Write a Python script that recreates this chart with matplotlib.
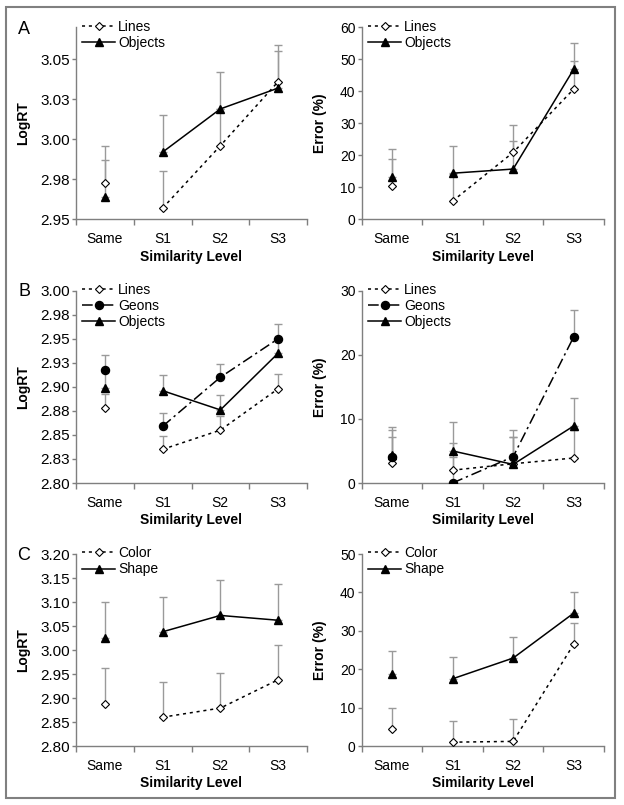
import matplotlib
matplotlib.use("Agg")
import matplotlib.pyplot as plt
from matplotlib.patches import Rectangle

plt.rcParams['font.family'] = ['Liberation Sans', 'DejaVu Sans']

levels = ['Same', 'S1', 'S2', 'S3']

# panel A
a_rt_lines = [2.973, 2.957, 2.996, 3.036]
a_rt_lines_err = [0.023, 0.023, 0.023, 0.023]
a_rt_objects = [2.964, 2.992, 3.019, 3.032]
a_rt_objects_err = [0.023, 0.023, 0.023, 0.023]
a_er_lines = [10.4, 5.7, 20.9, 40.7]
a_er_lines_err = [8.4, 8.5, 8.5, 8.7]
a_er_objects = [13.2, 14.4, 15.7, 46.9]
a_er_objects_err = [8.7, 8.5, 8.7, 8.3]

# panel B
b_rt_lines = [2.878, 2.835, 2.855, 2.898]
b_rt_lines_err = [0.015, 0.014, 0.015, 0.015]
b_rt_geons = [2.918, 2.859, 2.910, 2.950]
b_rt_geons_err = [0.015, 0.014, 0.014, 0.015]
b_rt_objects = [2.899, 2.896, 2.876, 2.935]
b_rt_objects_err = [0.016, 0.016, 0.016, 0.015]
b_er_lines = [3.1, 2.0, 3.0, 3.9]
b_er_lines_err = [4.0, 4.2, 4.2, 4.4]
b_er_geons = [4.1, 0.0, 4.1, 22.8]
b_er_geons_err = [4.1, 4.0, 4.2, 4.2]
b_er_objects = [4.4, 5.0, 2.9, 8.9]
b_er_objects_err = [4.3, 4.5, 4.3, 4.4]

# panel C
c_rt_color = [2.888, 2.860, 2.879, 2.938]
c_rt_color_err = [0.074, 0.073, 0.074, 0.072]
c_rt_shape = [3.026, 3.038, 3.072, 3.062]
c_rt_shape_err = [0.073, 0.073, 0.073, 0.075]
c_er_color = [4.4, 1.0, 1.2, 26.5]
c_er_color_err = [5.6, 5.5, 5.8, 5.6]
c_er_shape = [18.8, 17.5, 22.9, 34.6]
c_er_shape_err = [5.9, 5.6, 5.6, 5.6]

a_rt_ticks = [2.95, 2.975, 3.0, 3.025, 3.05]
a_rt_labels = ['2.95', '2.98', '3.00', '3.03', '3.05']
b_rt_ticks = [2.80, 2.825, 2.85, 2.875, 2.90, 2.925, 2.95, 2.975, 3.00]
b_rt_labels = ['2.80', '2.83', '2.85', '2.88', '2.90', '2.93', '2.95', '2.98', '3.00']
c_rt_ticks = [2.80, 2.85, 2.90, 2.95, 3.00, 3.05, 3.10, 3.15, 3.20]
c_rt_labels = ['2.80', '2.85', '2.90', '2.95', '3.00', '3.05', '3.10', '3.15', '3.20']

STYLES = {
    'diamond': dict(marker='D', ms=4.4, mfc='white', mec='black', mew=0.8,
                    color='black', ls=(0, (2, 2.5)), lw=1.1),
    'circle': dict(marker='o', ms=5.8, mfc='black', mec='black',
                   color='black', ls=(0, (7, 2.5, 1.5, 2.5)), lw=1.1),
    'triangle': dict(marker='^', ms=6.0, mfc='black', mec='black',
                     color='black', ls='-', lw=1.1),
}

AX_GRAY = '#7f7f7f'


def draw_panel(ax, series, ylim, yticks, yticklabels, ylabel, ylabel_x, ytick_size,
               order=None):
    x = list(range(len(levels)))
    for label, vals, errs, kind in series:
        low = [0] * len(errs)
        eb = ax.errorbar(x, vals, yerr=[low, errs], fmt='none', ecolor='#9a9a9a',
                         elinewidth=1.0, capsize=2.6, capthick=1.0, zorder=1)
        for cap in eb[1]:
            cap.set_color('#4a4a4a')
    handles = {}
    for label, vals, errs, kind in series:
        st = STYLES[kind]
        handles[label], = ax.plot(x[1:], vals[1:], label=label, zorder=3, **st)
        only_marker = {k: v for k, v in st.items() if k not in ('ls', 'lw')}
        ax.plot(x[:1], vals[:1], ls='none', zorder=3, **only_marker)

    ax.set_xlim(-0.5, 3.5)
    ax.set_ylim(*ylim)
    ax.set_yticks(yticks)
    ax.set_yticklabels(yticklabels)
    ax.set_xticks(x)
    ax.set_xticklabels(levels)
    ax.set_xticks([-0.5, 0.5, 1.5, 2.5, 3.5], minor=True)
    ax.tick_params(axis='x', which='major', length=0, pad=9, labelsize=10)
    ax.tick_params(axis='x', which='minor', length=4, width=1, color=AX_GRAY, direction='out')
    ax.tick_params(axis='y', which='major', length=3, width=1, color=AX_GRAY, pad=1.5,
                   labelsize=ytick_size, direction='out')
    for side in ('top', 'right'):
        ax.spines[side].set_visible(False)
    for side in ('left', 'bottom'):
        ax.spines[side].set_color(AX_GRAY)
        ax.spines[side].set_linewidth(1.0)

    ax.set_ylabel(ylabel, fontsize=10, fontweight='bold')
    ax.yaxis.label.set_va('center')
    ax.yaxis.set_label_coords(ylabel_x, 0.5)
    ax.set_xlabel('Similarity Level', fontsize=10, fontweight='bold')
    ax.xaxis.label.set_va('center')
    ax.xaxis.set_label_coords(0.5, -0.195)

    names = order if order else [s[0] for s in series]
    ax.legend([handles[n] for n in names], names, loc='upper left',
              bbox_to_anchor=(0.026, 1.04), frameon=False, borderpad=0, borderaxespad=0,
              handlelength=2.4, handletextpad=0.2, labelspacing=0.15, fontsize=10)


W, H = 624, 805
fig = plt.figure(figsize=(6.24, 8.05), dpi=100)

left_x, left_w = 76 / W, 231 / W
right_x, right_w = 361.7 / W, 242.3 / W
rows = [(27.3, 219.3), (290.7, 483.0), (554.0, 746.0)]


def axes_at(x0, w, row):
    top, bottom = row
    return fig.add_axes([x0, 1 - bottom / H, w, (bottom - top) / H])


ax_a1 = axes_at(left_x, left_w, rows[0])
ax_a2 = axes_at(right_x, right_w, rows[0])
ax_b1 = axes_at(left_x, left_w, rows[1])
ax_b2 = axes_at(right_x, right_w, rows[1])
ax_c1 = axes_at(left_x, left_w, rows[2])
ax_c2 = axes_at(right_x, right_w, rows[2])

b_order = ['Lines', 'Geons', 'Objects']

draw_panel(ax_a1, [('Lines', a_rt_lines, a_rt_lines_err, 'diamond'),
                   ('Objects', a_rt_objects, a_rt_objects_err, 'triangle')],
           (2.95, 3.07), a_rt_ticks, a_rt_labels, 'LogRT', -0.23, 11)
draw_panel(ax_a2, [('Lines', a_er_lines, a_er_lines_err, 'diamond'),
                   ('Objects', a_er_objects, a_er_objects_err, 'triangle')],
           (0, 60), list(range(0, 61, 10)), [str(v) for v in range(0, 61, 10)],
           'Error (%)', -0.172, 10)

draw_panel(ax_b1, [('Lines', b_rt_lines, b_rt_lines_err, 'diamond'),
                   ('Objects', b_rt_objects, b_rt_objects_err, 'triangle'),
                   ('Geons', b_rt_geons, b_rt_geons_err, 'circle')],
           (2.80, 3.00), b_rt_ticks, b_rt_labels, 'LogRT', -0.23, 11, b_order)
draw_panel(ax_b2, [('Lines', b_er_lines, b_er_lines_err, 'diamond'),
                   ('Objects', b_er_objects, b_er_objects_err, 'triangle'),
                   ('Geons', b_er_geons, b_er_geons_err, 'circle')],
           (0, 30), [0, 10, 20, 30], ['0', '10', '20', '30'], 'Error (%)', -0.172, 10,
           b_order)

draw_panel(ax_c1, [('Color', c_rt_color, c_rt_color_err, 'diamond'),
                   ('Shape', c_rt_shape, c_rt_shape_err, 'triangle')],
           (2.80, 3.20), c_rt_ticks, c_rt_labels, 'LogRT', -0.23, 11)
draw_panel(ax_c2, [('Color', c_er_color, c_er_color_err, 'diamond'),
                   ('Shape', c_er_shape, c_er_shape_err, 'triangle')],
           (0, 50), list(range(0, 51, 10)), [str(v) for v in range(0, 51, 10)],
           'Error (%)', -0.172, 10)

for letter, y in (('A', 30), ('B', 291), ('C', 555)):
    fig.text(24 / W, 1 - y / H, letter, fontsize=13, ha='center', va='center')

fig.add_artist(Rectangle((6 / W, 1 - 798 / H), 609 / W, 791 / H, fill=False,
                         ec='#808080', lw=1.5, transform=fig.transFigure))

fig.savefig('out.png', dpi=100)
